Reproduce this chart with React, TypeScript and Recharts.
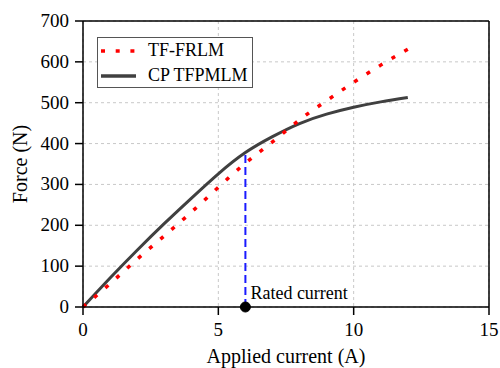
import React from "react";
import {
  CartesianGrid,
  Label,
  Line,
  LineChart,
  ReferenceDot,
  ReferenceLine,
  XAxis,
  YAxis,
} from "recharts";

// values
const current = [0, 1, 2, 3, 4, 5, 6, 7, 8, 9, 10, 11, 12];
const frlm = [0, 57, 117, 174, 232, 293, 352, 404, 458, 505, 550, 592, 631];
const cpTfpmlm = [0, 71, 139, 204, 266, 326, 378, 417, 449, 472, 489, 502, 513];

const ratedCurrent = 6;
const ratedForce = 378;

const xTicks = [0, 5, 10, 15];
const yTicks = [0, 100, 200, 300, 400, 500, 600, 700];

const data = current.map((c, i) => ({ current: c, frlm: frlm[i], cp: cpTfpmlm[i] }));

const FONT = "Liberation Serif";

const legendItems = [
  { name: "TF-FRLM", color: "#ff0000", dash: "4 10.7", width: 3.5 },
  { name: "CP TFPMLM", color: "#404040", dash: undefined, width: 3.5 },
];

function XTick(props: any) {
  const { x, y, payload } = props;
  return (
    <text
      x={x}
      y={y}
      dy={14}
      textAnchor="middle"
      fill="#000"
      style={{ fontFamily: FONT, fontSize: 19 }}
    >
      {payload.value}
    </text>
  );
}

function YTick(props: any) {
  const { x, y, payload } = props;
  return (
    <text
      x={x}
      y={y}
      dy={6}
      textAnchor="end"
      fill="#000"
      style={{ fontFamily: FONT, fontSize: 19 }}
    >
      {payload.value}
    </text>
  );
}

function ChartLegend() {
  return (
    <div
      style={{
        position: "absolute",
        left: 97,
        top: 37,
        border: "1px solid #555",
        background: "#fff",
        width: 154,
        height: 49,
        fontSize: 18,
        color: "#000",
        lineHeight: "25px",
      }}
    >
      {legendItems.map((it) => (
        <div key={it.name} style={{ display: "flex", alignItems: "center", height: 25 }}>
          <svg width={48} height={10} style={{ marginLeft: 2 }}>
            <line
              x1={1}
              y1={5}
              x2={36}
              y2={5}
              stroke={it.color}
              strokeWidth={it.width}
              strokeDasharray={it.dash}
            />
          </svg>
          <span>{it.name}</span>
        </div>
      ))}
    </div>
  );
}

export default function App() {
  return (
    <div
      style={{
        position: "absolute",
        left: 0,
        top: 0,
        width: 500,
        height: 368,
        background: "#fff",
        fontFamily: FONT,
      }}
    >
      <LineChart
        width={500}
        height={368}
        data={data}
        margin={{ top: 21, right: 11, left: 0, bottom: 0 }}
        style={{ fontFamily: FONT }}
      >
        <CartesianGrid stroke="#c8c8c8" strokeDasharray="3 3" />
        <XAxis
          dataKey="current"
          type="number"
          domain={[0, 15]}
          ticks={xTicks}
          height={61}
          tickSize={8}
          tickMargin={7}
          stroke="#000"
          strokeWidth={1.5}
          tick={<XTick />}
        >
          <Label
            value="Applied current (A)"
            position="insideBottom"
            offset={5}
            style={{ fill: "#000", fontSize: 20, fontFamily: FONT }}
          />
        </XAxis>
        <YAxis
          type="number"
          domain={[0, 700]}
          ticks={yTicks}
          width={83}
          tickSize={8}
          tickMargin={6}
          stroke="#000"
          strokeWidth={1.5}
          tick={<YTick />}
        >
          <Label
            value="Force (N)"
            angle={-90}
            position="insideLeft"
            offset={20}
            style={{ fill: "#000", fontSize: 20, textAnchor: "middle", fontFamily: FONT }}
          />
        </YAxis>
        <ReferenceLine y={700} stroke="#000" strokeWidth={1.5} />
        <ReferenceLine x={15} stroke="#000" strokeWidth={1.5} />
        <ReferenceLine
          segment={[
            { x: ratedCurrent, y: 0 },
            { x: ratedCurrent, y: ratedForce },
          ]}
          stroke="#1a1aff"
          strokeWidth={2}
          strokeDasharray="8 4"
        />
        <Line
          dataKey="cp"
          name="CP TFPMLM"
          type="natural"
          stroke="#404040"
          strokeWidth={3}
          dot={false}
          isAnimationActive={false}
        />
        <Line
          dataKey="frlm"
          name="TF-FRLM"
          type="natural"
          stroke="#ff0000"
          strokeWidth={3.5}
          strokeDasharray="4 10.7"
          dot={false}
          isAnimationActive={false}
        />
        <ReferenceDot x={ratedCurrent} y={0} r={5} fill="#000" stroke="#000">
          <Label
            content={(props: any) => {
              const vb = props.viewBox || {};
              return (
                <text
                  x={(vb.x ?? 0) + 10}
                  y={(vb.y ?? 0) - 3}
                  fill="#000"
                  style={{ fontFamily: FONT, fontSize: 18 }}
                >
                  Rated current
                </text>
              );
            }}
          />
        </ReferenceDot>
      </LineChart>
      <ChartLegend />
    </div>
  );
}
